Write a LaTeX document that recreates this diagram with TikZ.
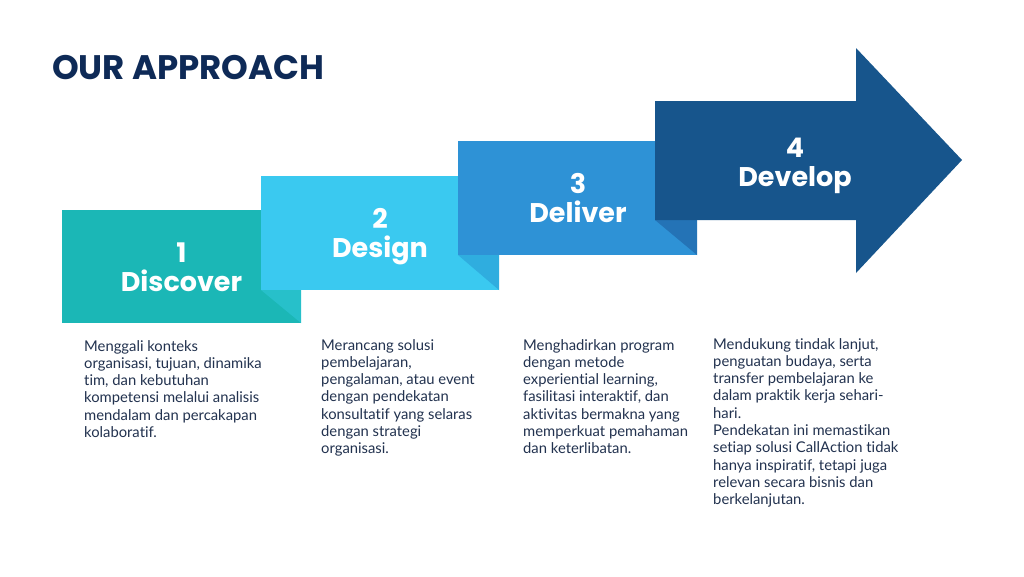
\documentclass[tikz,border=0pt]{standalone}
\usepackage{fontspec}
\setmainfont{Lato}[Ligatures={NoCommon}]
\newfontfamily\popfont{Poppins}
\definecolor{titlenavy}{HTML}{0E2A57}
\definecolor{bodytext}{HTML}{22324F}
\definecolor{cA}{HTML}{1BB7B6}
\definecolor{cAf}{HTML}{27C0CA}
\definecolor{cB}{HTML}{3AC9F0}
\definecolor{cBf}{HTML}{2FADDF}
\definecolor{cC}{HTML}{2E92D6}
\definecolor{cCf}{HTML}{2473B6}
\definecolor{cD}{HTML}{17558C}
\newcommand\colbox[1]{\parbox[t]{240pt}{\raggedright #1}}
\begin{document}
\begin{tikzpicture}[x=1pt,y=-1pt,
  lab/.style={inner sep=0pt, align=center, text=white,
    font=\popfont\bfseries\fontsize{27}{29}\selectfont},
  body/.style={inner sep=0pt, anchor=base west, text=bodytext,
    font=\fontsize{14.8}{17.3}\selectfont}]
\useasboundingbox (0,0) rectangle (1024,576);
\fill[white] (0,0) rectangle (1024,576);
% title
\node[inner sep=0pt, anchor=base west, text=titlenavy,
  font=\popfont\bfseries\fontsize{34}{36}\selectfont] (title) at (52,79) {OUR APPROACH};
% box 1
\fill[cA] (62,210) rectangle (301,323);
\fill[cAf] (261,290) -- (301,290) -- (301,323) -- cycle;
% box 2
\fill[cB] (261,176) rectangle (499,290);
\fill[cBf] (458,255) -- (499,255) -- (499,290) -- cycle;
% box 3
\fill[cC] (458,141) rectangle (697,255);
\fill[cCf] (655,220) -- (697,220) -- (697,255) -- cycle;
% arrow 4
\fill[cD] (655,101) -- (856,101) -- (856,48) -- (962,160) -- (856,273) -- (856,220) -- (655,220) -- cycle;
% labels
\node[lab] (l1) at (181.5,267) {1\\Discover};
\node[lab] (l2) at (380,236.5) {2\\Design};
\node[lab] (l3) at (578,198) {3\\Deliver};
\node[lab] (l4) at (795,165.5) {4\\Develop};
% body texts
\node[body] (t1) at (84,351) {\colbox{Menggali konteks\\organisasi, tujuan, dinamika\\tim, dan kebutuhan\\kompetensi melalui analisis\\mendalam dan percakapan\\kolaboratif.}};
\node[body] (t2) at (321,350) {\colbox{Merancang solusi\\pembelajaran,\\pengalaman, atau event\\dengan pendekatan\\konsultatif yang selaras\\dengan strategi\\organisasi.}};
\node[body] (t3) at (523,350) {\colbox{Menghadirkan program\\dengan metode\\experiential learning,\\fasilitasi interaktif, dan\\aktivitas bermakna yang\\memperkuat pemahaman\\dan keterlibatan.}};
\node[body] (t4) at (713,349) {\colbox{Mendukung tindak lanjut,\\penguatan budaya, serta\\transfer pembelajaran ke\\dalam praktik kerja sehari-\\hari.\\Pendekatan ini memastikan\\setiap solusi CallAction tidak\\hanya inspiratif, tetapi juga\\relevan secara bisnis dan\\berkelanjutan.}};
\end{tikzpicture}
\end{document}
